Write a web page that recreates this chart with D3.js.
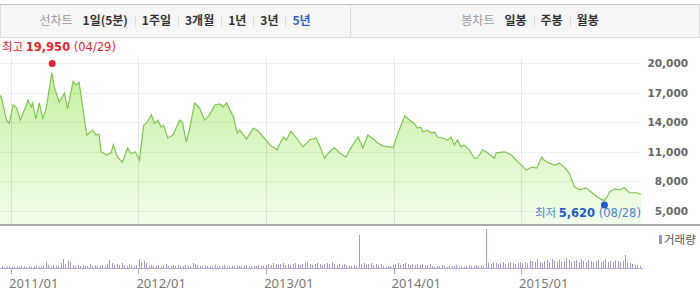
<!DOCTYPE html>
<html>
<head>
<meta charset="utf-8">
<script src="https://cdn.jsdelivr.net/npm/d3@7"></script>
<style>
  body { margin: 0; background: #fff; }
  svg { display: block; }
</style>
</head>
<body>
<svg width="700" height="293"></svg>
<script>
// close price
const priceDates = [
  "2010-11-30", "2010-12-05", "2010-12-19", "2010-12-27", "2011-01-07", "2011-01-17", "2011-01-28", "2011-02-19", "2011-02-28", "2011-03-04",
  "2011-03-13", "2011-03-23", "2011-04-02", "2011-04-11", "2011-04-28", "2011-05-05", "2011-05-19", "2011-06-03", "2011-06-12", "2011-06-28",
  "2011-07-06", "2011-07-15", "2011-08-06", "2011-08-23", "2011-09-02", "2011-09-10", "2011-09-16", "2011-10-01", "2011-10-15", "2011-10-21",
  "2011-11-02", "2011-11-16", "2011-12-01", "2011-12-11", "2011-12-23", "2012-01-04", "2012-01-16", "2012-01-24", "2012-02-07", "2012-02-16",
  "2012-02-26", "2012-03-06", "2012-03-13", "2012-03-25", "2012-04-09", "2012-04-28", "2012-05-06", "2012-05-17", "2012-05-26", "2012-06-10",
  "2012-06-24", "2012-07-09", "2012-07-23", "2012-08-07", "2012-08-21", "2012-08-31", "2012-09-10", "2012-09-19", "2012-09-29", "2012-10-10",
  "2012-10-17", "2012-11-06", "2012-11-25", "2012-12-09", "2012-12-23", "2013-01-12", "2013-02-01", "2013-02-19", "2013-02-28", "2013-03-13",
  "2013-03-27", "2013-04-16", "2013-05-05", "2013-05-24", "2013-06-08", "2013-06-17", "2013-07-01", "2013-07-16", "2013-07-30", "2013-08-18",
  "2013-08-28", "2013-09-21", "2013-10-05", "2013-10-19", "2013-11-08", "2013-11-16", "2013-12-01", "2013-12-20", "2013-12-30", "2014-01-14",
  "2014-02-02", "2014-02-16", "2014-03-01", "2014-03-10", "2014-03-20", "2014-03-26", "2014-04-08", "2014-04-18", "2014-04-28", "2014-05-07",
  "2014-05-21", "2014-06-05", "2014-06-15", "2014-06-24", "2014-07-03", "2014-07-13", "2014-07-22", "2014-08-06", "2014-08-20", "2014-08-29",
  "2014-09-13", "2014-09-27", "2014-10-17", "2014-10-22", "2014-11-15", "2014-12-04", "2014-12-18", "2015-01-02", "2015-01-16", "2015-02-01",
  "2015-02-15", "2015-03-01", "2015-03-09", "2015-03-23", "2015-04-07", "2015-04-21", "2015-05-05", "2015-05-19", "2015-06-03", "2015-06-17",
  "2015-07-06", "2015-07-20", "2015-08-09", "2015-08-18", "2015-08-27", "2015-09-04", "2015-09-12", "2015-09-26", "2015-10-10", "2015-10-24",
  "2015-11-08", "2015-11-27", "2015-12-11"
];
const priceValues = [
  16750, 16450, 14200, 13900, 15750, 15450, 14200, 16250, 15550, 15950,
  14300, 15950, 14400, 15250, 19000, 17550, 16050, 16950, 15350, 18150,
  17750, 18050, 12700, 13200, 12700, 12800, 11000, 10700, 10900, 11700,
  10450, 9950, 11400, 10800, 11000, 10150, 13700, 13900, 14750, 13900,
  14200, 13500, 13700, 12400, 12700, 14200, 14000, 12000, 13200, 15950,
  15450, 14200, 14750, 15750, 15850, 15550, 15950, 15250, 14550, 12900,
  13200, 12300, 13400, 13100, 12500, 11700, 11200, 12500, 12200, 13100,
  12500, 11500, 12200, 12400, 11200, 10350, 11000, 11400, 10900, 10450,
  11200, 12500, 11400, 12700, 12200, 11900, 11600, 11500, 11400, 12900,
  14650, 14200, 13900, 13400, 13500, 13000, 13200, 12900, 13000, 12500,
  12400, 12200, 12500, 11700, 12200, 11500, 11700, 11200, 10350, 10350,
  11200, 10900, 10350, 10900, 11000, 10700, 10150, 9650, 9150, 9450,
  9350, 10450, 10150, 9850, 9650, 9850, 9450, 8850, 7450, 7150,
  7350, 6950, 6400, 6200, 6050, 6400, 6950, 7250, 7150, 7350,
  6850, 6850, 6700
];

// weekly volume (만주), first week starts volumeStart
const volumeStart = "2010-11-29";
const volumes = [
  15, 20, 10, 15, 20, 15, 10, 20, 15, 25, 15, 10, 20, 15, 20, 25, 15, 20, 30,
  60, 30,
  20, 30, 20, 25,
  50, 90, 40, 80, 60, 30,
  20, 30, 20, 30, 20, 20, 40, 20, 30, 20, 20, 30, 20, 40,
  80, 50, 30,
  40, 30, 50, 30, 20, 40, 30, 20, 30,
  90, 60, 70, 50,
  20, 30, 20, 20, 30, 20, 30, 40, 20, 20, 30, 20, 30, 20, 20, 30, 20, 20,
  50, 40, 30,
  20, 20, 30, 20, 20, 20, 30, 20, 20, 20, 30, 20, 20, 20, 20, 30, 20, 20, 20, 30, 20, 20, 20, 20, 30, 20, 20,
  30, 40, 30, 50, 40, 30, 40, 50, 30, 40, 30, 40, 50, 40, 30, 40, 50, 60, 40, 30, 40, 50, 40, 30, 40, 50, 40, 60, 40, 30, 40, 30, 40, 30,
  20, 20, 30, 20,
  330,
  40, 50, 30, 40, 50, 30, 40, 30, 40,
  20, 10, 20, 20,
  30, 40, 50, 30, 40, 50, 40, 30, 40, 30, 40, 30, 40, 30, 30, 40,
  20, 10, 20, 20, 30, 20, 10, 20, 20, 20, 30, 20, 20, 10, 20, 30, 20, 20, 30, 20, 30, 20,
  390,
  50, 40, 60, 50, 40, 50, 60, 40, 50, 60, 50, 40, 50, 60, 50,
  60, 50, 80, 70, 60, 90, 60, 50, 70, 80, 60, 90, 70, 60, 80, 60, 70, 100, 80, 60, 70, 80, 60, 90,
  70, 60, 80, 70, 60, 70, 80, 60, 70, 90, 60, 70, 60, 80, 70, 60, 70, 130, 60, 50, 40, 30, 30, 20
];

const yTickValues = [20000, 17000, 14000, 11000, 8000, 5000];
const xTickDates = ["2011-01-01", "2012-01-01", "2013-01-01", "2014-01-01", "2015-01-01"];

const highPoint = { date: "2011-04-29", value: 19950, title: "최고", day: "(04/29)" };
const lowPoint = { date: "2015-08-28", value: 5620, title: "최저", day: "(08/28)" };

const periodMenu = ["선차트", "1일(5분)", "1주일", "3개월", "1년", "3년", "5년"];
const candleMenu = ["봉차트", "일봉", "주봉", "월봉"];
const activeItem = "5년";

const parseDate = d3.timeParse("%Y-%m-%d");
const svg = d3.select("svg");

const xScale = d3
  .scaleTime()
  .domain([parseDate("2011-01-01"), parseDate("2015-01-01")])
  .range([11, 521]);
const yScale = d3.scaleLinear().domain([5000, 20000]).range([211, 63]);
const volScale = d3.scaleLinear().domain([0, 400]).range([268, 228]);

const plotBottom = 224;
const plotRight = 641;

function drawToolbar()
{
  const bar = svg.append("g");
  bar
    .append("rect")
    .attr("x", 0.5)
    .attr("y", 4.5)
    .attr("width", 699)
    .attr("height", 33)
    .attr("fill", "#f6f6f7")
    .attr("stroke", "#dcdcdc");
  bar
    .append("line")
    .attr("x1", 0)
    .attr("x2", 700)
    .attr("y1", 4.5)
    .attr("y2", 4.5)
    .attr("stroke", "#c4c4c4");
  bar
    .append("line")
    .attr("x1", 350.5)
    .attr("x2", 350.5)
    .attr("y1", 5)
    .attr("y2", 37)
    .attr("stroke", "#dcdcdc");

  layoutMenu(bar, periodMenu, 175);
  layoutMenu(bar, candleMenu, 530);
}

function layoutMenu(bar, items, centerX)
{
  const texts = items.map((label, i) =>
    bar
      .append("text")
      .attr("y", 25)
      .attr("font-family", "'Noto Sans CJK KR', sans-serif")
      .attr("font-size", 12)
      .attr("font-weight", i === 0 ? "normal" : "bold")
      .attr("fill", i === 0 ? "#9a9a9a" : label === activeItem ? "#2f5fc4" : "#333")
      .text(label)
  );
  const widths = texts.map((t) => t.node().getComputedTextLength());
  const gaps = items.map((d, i) => (i === 0 ? 0 : i === 1 ? 10 : 14));
  const total = d3.sum(widths) + d3.sum(gaps);
  let cursor = centerX - total / 2;
  texts.forEach((t, i) =>
  {
    cursor += gaps[i];
    if (i > 1)
    {
      bar
        .append("line")
        .attr("x1", Math.round(cursor - gaps[i] / 2) + 0.5)
        .attr("x2", Math.round(cursor - gaps[i] / 2) + 0.5)
        .attr("y1", 15)
        .attr("y2", 27)
        .attr("stroke", "#dedede");
    }
    t.attr("x", cursor);
    cursor += widths[i];
  });
}

function drawPrice()
{
  const data = priceDates.map((d, i) => ({ date: parseDate(d), value: priceValues[i] }));

  const grad = svg
    .append("defs")
    .append("linearGradient")
    .attr("id", "priceFill")
    .attr("gradientUnits", "userSpaceOnUse")
    .attr("x1", 0)
    .attr("y1", 63)
    .attr("x2", 0)
    .attr("y2", plotBottom);
  grad.append("stop").attr("offset", 0).attr("stop-color", "#c3ef9b");
  grad.append("stop").attr("offset", 1).attr("stop-color", "#f3fdec");

  const areaGenerator = d3
    .area()
    .x((d) => xScale(d.date))
    .y0(plotBottom)
    .y1((d) => yScale(d.value));
  const lineGenerator = d3
    .line()
    .x((d) => xScale(d.date))
    .y((d) => yScale(d.value));

  svg.append("path").datum(data).attr("d", areaGenerator).attr("fill", "url(#priceFill)");

  // grid on top of the fill, faint
  const grid = svg.append("g");
  grid
    .selectAll(".hgrid")
    .data(yTickValues)
    .join("line")
    .attr("x1", 0)
    .attr("x2", plotRight)
    .attr("y1", (d) => Math.round(yScale(d)) + 0.5)
    .attr("y2", (d) => Math.round(yScale(d)) + 0.5)
    .attr("stroke", "rgba(0,0,0,0.06)");
  grid
    .selectAll(".vgrid")
    .data(xTickDates)
    .join("line")
    .attr("x1", (d) => Math.round(xScale(parseDate(d))) + 0.5)
    .attr("x2", (d) => Math.round(xScale(parseDate(d))) + 0.5)
    .attr("y1", 58)
    .attr("y2", plotBottom)
    .attr("stroke", "rgba(0,0,0,0.09)");

  svg
    .append("path")
    .datum(data)
    .attr("d", lineGenerator)
    .attr("fill", "none")
    .attr("stroke", "#7dc64f")
    .attr("stroke-width", 1.2);

  svg
    .append("g")
    .selectAll("text")
    .data(yTickValues)
    .join("text")
    .attr("x", 688)
    .attr("y", (d) => yScale(d) + 4)
    .attr("text-anchor", "end")
    .attr("font-family", "'DejaVu Sans', Verdana, sans-serif")
    .attr("font-size", 10.5)
    .attr("font-weight", "bold")
    .attr("fill", "#666")
    .text((d) => d3.format(",")(d));

  svg
    .append("line")
    .attr("x1", 0)
    .attr("x2", 700)
    .attr("y1", 225)
    .attr("y2", 225)
    .attr("stroke", "#a8a8a8")
    .attr("stroke-width", 2);
}

function drawMarker(point, color, softColor, labelX, labelY)
{
  svg
    .append("circle")
    .attr("cx", xScale(parseDate(point.date)))
    .attr("cy", yScale(point.value))
    .attr("r", 3.5)
    .attr("fill", color);

  const label = svg
    .append("text")
    .attr("x", labelX)
    .attr("y", labelY)
    .attr("font-family", "'DejaVu Sans', Verdana, sans-serif")
    .attr("font-size", 11.5);
  label
    .append("tspan")
    .attr("font-family", "'Noto Sans CJK KR', sans-serif")
    .attr("fill", softColor)
    .text(point.title + " ");
  label
    .append("tspan")
    .attr("font-weight", "bold")
    .attr("fill", color)
    .text(d3.format(",")(point.value));
  label
    .append("tspan")
    .attr("fill", softColor)
    .text(" " + point.day);
}

function drawVolume()
{
  const start = parseDate(volumeStart);
  const bars = volumes.map((v, i) => ({ date: d3.timeWeek.offset(start, i), value: v }));

  svg
    .append("line")
    .attr("x1", 0)
    .attr("x2", plotRight + 2)
    .attr("y1", 268.5)
    .attr("y2", 268.5)
    .attr("stroke", "#b3aad6");

  svg
    .append("g")
    .selectAll("rect")
    .data(bars)
    .join("rect")
    .attr("x", (d) => Math.round(xScale(d.date)))
    .attr("y", (d) => volScale(d.value))
    .attr("width", 1)
    .attr("height", (d) => 268 - volScale(d.value))
    .attr("fill", "#a597d6");

  const ticks = svg.append("g");
  ticks
    .selectAll("line")
    .data(xTickDates)
    .join("line")
    .attr("x1", (d) => Math.round(xScale(parseDate(d))) + 0.5)
    .attr("x2", (d) => Math.round(xScale(parseDate(d))) + 0.5)
    .attr("y1", 268)
    .attr("y2", 274)
    .attr("stroke", "#aaa");
  ticks
    .selectAll("text")
    .data(xTickDates)
    .join("text")
    .attr("x", (d) => xScale(parseDate(d)) - 2)
    .attr("y", 288)
    .attr("font-family", "'Noto Sans', sans-serif")
    .attr("font-size", 13)
    .attr("fill", "#777")
    .text((d) => d3.timeFormat("%Y/%m")(parseDate(d)));

  svg
    .append("rect")
    .attr("x", 659)
    .attr("y", 235)
    .attr("width", 3)
    .attr("height", 9)
    .attr("fill", "#9d8fd0");
  svg
    .append("text")
    .attr("x", 664)
    .attr("y", 244)
    .attr("font-family", "'Noto Sans CJK KR', sans-serif")
    .attr("font-size", 11.5)
    .attr("fill", "#555")
    .text("거래량");
}

drawToolbar();
drawPrice();
drawVolume();
drawMarker(highPoint, "#e3262c", "#e3262c", 2, 51);
drawMarker(lowPoint, "#1f5cc8", "#4f82d4", 535, 217);
</script>
</body>
</html>
